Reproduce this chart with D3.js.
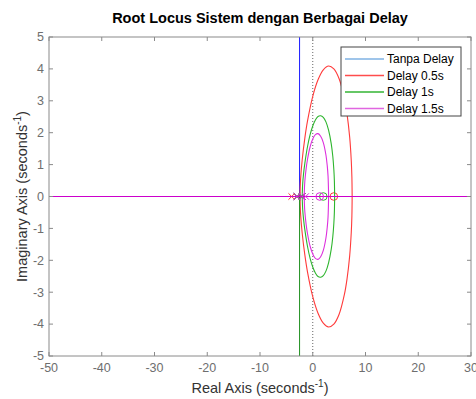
<!DOCTYPE html>
<html>
<head>
<meta charset="utf-8">
<script src="https://cdn.jsdelivr.net/npm/d3@7"></script>
<style>
  body { margin: 0; background: #fff; }
  svg { display: block; font-family: "Liberation Sans", Arial, sans-serif; }
</style>
</head>
<body>
<div id="chart-area"><svg></svg></div>
<script>
const chartSize = { width: 476, height: 399 };
const margin = { left: 49, right: 5, top: 37, bottom: 43 };

const width = chartSize.width - margin.left - margin.right;
const height = chartSize.height - margin.top - margin.bottom;

const realTicks = [-50, -40, -30, -20, -10, 0, 10, 20, 30];
const imagTicks = [-5, -4, -3, -2, -1, 0, 1, 2, 3, 4, 5];

const seriesNames = ["Tanpa Delay", "Delay 0.5s", "Delay 1s", "Delay 1.5s"];
const lineColors = ["#0000ff", "#ff3a3a", "#2db52d", "#dd2edd"];
const legendColors = ["#7fb2e3", "#ff4d4d", "#33b533", "#e066e0"];

// upper half of each loop [re, im]
const redLoop = [[-2.41, 0], [-2.38, 0.27], [-2.3, 0.56], [-2, 1.15], [-1.5, 1.83], [-1, 2.36],
  [0, 3.14], [1, 3.66], [2, 3.97], [3, 4.09], [4, 4.0], [5, 3.69], [6, 3.07], [6.5, 2.58],
  [7, 1.86], [7.3, 1.13], [7.42, 0.61], [7.47, 0]];
const greenLoop = [[-2, 0], [-1.9, 0.42], [-1.75, 0.7], [-1.5, 1.04], [-1, 1.56], [-0.5, 1.94],
  [0, 2.21], [0.5, 2.4], [1, 2.51], [1.5, 2.53], [2, 2.48], [2.5, 2.34], [3, 2.08], [3.5, 1.66],
  [3.8, 1.26], [4, 0.84], [4.1, 0.49], [4.15, 0]];
const magentaLoop = [[-1.61, 0], [-1.58, 0.24], [-1.5, 0.48], [-1.25, 0.88], [-1, 1.16],
  [-0.5, 1.56], [0, 1.8], [0.5, 1.94], [1, 1.97], [1.5, 1.89], [2, 1.69], [2.5, 1.3],
  [2.75, 0.96], [2.9, 0.64], [3.01, 0]];

// vertical branch of the no-delay locus
const blueBranch = [[-2.5, 0], [-2.5, 5]];
const lowerBranch = [[-2.5, 0], [-2.5, -5]];

// real-axis segments [from, to]
const blueReal = [[-3, -2]];
const redReal = [[-50, -4], [-3, -2], [4, 30]];
const greenReal = [[-50, -3], [2, 30]];
const magentaReal = [[-50, 30]];

const poles = [[-3, -2], [-4, -3, -2], [-3, -2, -2], [-3, -2, -1.33]];
const zeros = [[], [4], [2], [1.33]];

const x = d3.scaleLinear().domain([-50, 30]).range([0, width]);
const y = d3.scaleLinear().domain([-5, 5]).range([height, 0]);

const svg = d3.select("#chart-area svg")
  .attr("width", chartSize.width)
  .attr("height", chartSize.height);

svg.append("text")
  .attr("x", margin.left + width / 2)
  .attr("y", 23)
  .attr("text-anchor", "middle")
  .attr("font-weight", "bold")
  .attr("font-size", 14.5)
  .attr("fill", "#000")
  .text("Root Locus Sistem dengan Berbagai Delay");

const g = svg.append("g")
  .attr("transform", `translate(${margin.left}, ${margin.top})`);

g.append("clipPath").attr("id", "plot-clip")
  .append("rect").attr("width", width).attr("height", height);

const plot = g.append("g").attr("clip-path", "url(#plot-clip)");

// imaginary axis dotted line
plot.append("line")
  .attr("x1", x(0)).attr("x2", x(0))
  .attr("y1", 0).attr("y2", height)
  .attr("stroke", "#666")
  .attr("stroke-dasharray", "1,2");

const line = d3.line().x(d => x(d[0])).y(d => y(d[1]));
const smooth = d3.line().x(d => x(d[0])).y(d => y(d[1])).curve(d3.curveCatmullRom);

const drawReal = (segs, color) => segs.forEach(s =>
  plot.append("line")
    .attr("x1", x(s[0])).attr("x2", x(s[1]))
    .attr("y1", y(0)).attr("y2", y(0))
    .attr("stroke", color).attr("stroke-width", 1.2));

const drawLoop = (pts, color) => {
  [pts, pts.map(p => [p[0], -p[1]])].forEach(half =>
    plot.append("path")
      .attr("d", smooth(half))
      .attr("fill", "none")
      .attr("stroke", color)
      .attr("stroke-width", 1.1));
};

const drawMarkers = (i) => {
  const color = lineColors[i];
  poles[i].forEach(p => {
    const cx = x(p), cy = y(0), r = 3.2;
    plot.append("path")
      .attr("d", `M${cx - r},${cy - r}L${cx + r},${cy + r}M${cx - r},${cy + r}L${cx + r},${cy - r}`)
      .attr("stroke", color).attr("stroke-width", 1);
  });
  zeros[i].forEach(z =>
    plot.append("circle")
      .attr("cx", x(z)).attr("cy", y(0)).attr("r", 3.8)
      .attr("fill", "none").attr("stroke", color).attr("stroke-width", 1));
};

// Tanpa Delay
plot.append("path").attr("d", line(blueBranch))
  .attr("fill", "none")
  .attr("stroke", "#1a1aff").attr("stroke-width", 1);
drawReal(blueReal, lineColors[0]);
drawMarkers(0);

// Delay 0.5s
drawLoop(redLoop, lineColors[1]);
drawReal(redReal, lineColors[1]);
drawMarkers(1);

// Delay 1s
plot.append("path").attr("d", line(lowerBranch))
  .attr("fill", "none")
  .attr("stroke", "#1f8f1f").attr("stroke-width", 1);
drawLoop(greenLoop, lineColors[2]);
drawReal(greenReal, lineColors[2]);
drawMarkers(2);

// Delay 1.5s
drawLoop(magentaLoop, lineColors[3]);
drawReal(magentaReal, "#cc00cc");
drawMarkers(3);

// axes box and ticks
const axisColor = "#8a8a8a";
g.append("rect")
  .attr("width", width).attr("height", height)
  .attr("fill", "none").attr("stroke", axisColor);

realTicks.forEach(t => {
  g.append("line").attr("x1", x(t)).attr("x2", x(t)).attr("y1", height).attr("y2", height - 4)
    .attr("stroke", axisColor);
  g.append("line").attr("x1", x(t)).attr("x2", x(t)).attr("y1", 0).attr("y2", 4)
    .attr("stroke", axisColor);
  g.append("text")
    .attr("x", x(t)).attr("y", height + 16)
    .attr("text-anchor", "middle")
    .attr("font-size", 12.5).attr("fill", "#6e6e6e")
    .text(t);
});

imagTicks.forEach(t => {
  g.append("line").attr("x1", 0).attr("x2", 4).attr("y1", y(t)).attr("y2", y(t))
    .attr("stroke", axisColor);
  g.append("line").attr("x1", width).attr("x2", width - 4).attr("y1", y(t)).attr("y2", y(t))
    .attr("stroke", axisColor);
  g.append("text")
    .attr("x", -5).attr("y", y(t))
    .attr("dy", "0.35em")
    .attr("text-anchor", "end")
    .attr("font-size", 12.5).attr("fill", "#6e6e6e")
    .text(t);
});

const xLabel = g.append("text")
  .attr("x", width / 2).attr("y", height + 37)
  .attr("text-anchor", "middle")
  .attr("font-size", 14.5).attr("fill", "#333");
xLabel.append("tspan").text("Real Axis (seconds");
xLabel.append("tspan").attr("dy", -6).attr("font-size", 10).text("-1");
xLabel.append("tspan").attr("dy", 6).text(")");

const yLabel = g.append("text")
  .attr("transform", "rotate(-90)")
  .attr("x", -height / 2).attr("y", -22)
  .attr("text-anchor", "middle")
  .attr("font-size", 14.5).attr("fill", "#333");
yLabel.append("tspan").text("Imaginary Axis (seconds");
yLabel.append("tspan").attr("dy", -6).attr("font-size", 10).text("-1");
yLabel.append("tspan").attr("dy", 6).text(")");

// legend
const legend = svg.append("g").attr("transform", "translate(341, 47)");
legend.append("rect")
  .attr("width", 120).attr("height", 69)
  .attr("fill", "#fff").attr("stroke", "#444");
seriesNames.forEach((name, i) => {
  const ly = 12 + i * 16.5;
  legend.append("line")
    .attr("x1", 4).attr("x2", 43).attr("y1", ly).attr("y2", ly)
    .attr("stroke", legendColors[i]).attr("stroke-width", 1.3);
  legend.append("text")
    .attr("x", 46).attr("y", ly).attr("dy", "0.35em")
    .attr("font-size", 12).attr("fill", "#000")
    .text(name);
});
</script>
</body>
</html>
